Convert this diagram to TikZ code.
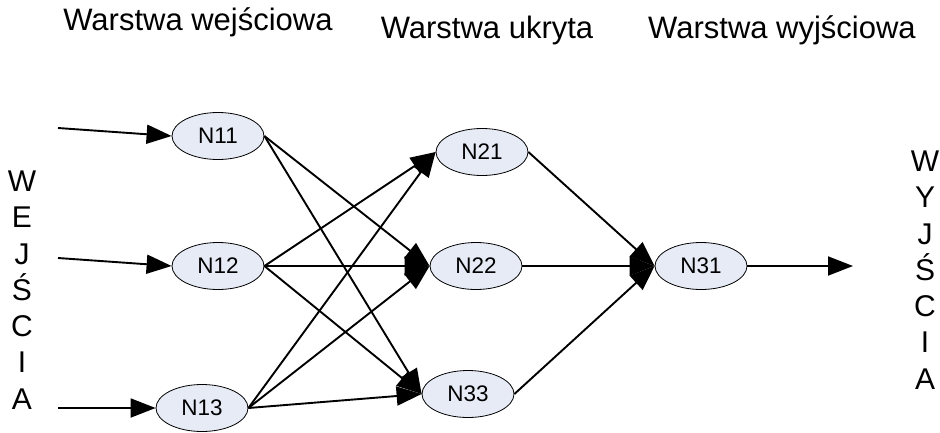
\documentclass[tikz,border=0pt]{standalone}
\usepackage{fontspec}
\setmainfont{Liberation Sans}
\usetikzlibrary{arrows.meta,shapes.geometric}
\definecolor{neuronfill}{RGB}{230,235,246}
\tikzset{
  neuron/.style={ellipse,draw,fill=neuronfill,line width=0.8pt,
    minimum width=92pt,minimum height=47pt,inner sep=0pt,
    font=\fontsize{22.5}{26}\selectfont},
  layertitle/.style={font=\fontsize{31}{36}\selectfont},
  sidetext/.style={align=center,font=\fontsize{30}{36.3}\selectfont},
  link/.style={line width=1.9pt,-{Triangle[length=25pt,width=19pt]}}
}
\begin{document}
\begin{tikzpicture}[x=1pt,y=-1pt]
      \useasboundingbox (0,0) rectangle (940,432);
      \node[layertitle] (t1) at (198,22) {Warstwa wejściowa};
      \node[layertitle] (t2) at (487,30) {Warstwa ukryta};
      \node[layertitle] (t3) at (782,30) {Warstwa wyjściowa};
      \node[sidetext] (we) at (22,290) {W\\E\\J\\Ś\\C\\I\\A};
      \node[sidetext] (wy) at (925,270) {W\\Y\\J\\Ś\\C\\I\\A};
      \draw
        (218,136) node[neuron] (11){N11}
        (218,266) node[neuron] (12){N12}
        (202,408) node[neuron] (13){N13}
        (482,152) node[neuron] (21){N21}
        (476,266) node[neuron] (22){N22}
        (468,394) node[neuron] (33){N33}
        (701,266) node[neuron] (31){N31};
      \coordinate (in1) at (58,128);
      \coordinate (in2) at (58,258);
      \coordinate (in3) at (58,408);
      \coordinate (out) at (853,266);
      \begin{scope}[link]
        \draw (in1) to (11.west);
        \draw (in2) to (12.west);
        \draw (in3) to (13.west);
        \draw (11.east) to (22.west);
        \draw (11.east) to (33.west);
        \draw (12.east) to (21.west);
        \draw (12.east) to (22.west);
        \draw (12.east) to (33.west);
        \draw (13.east) to (21.west);
        \draw (13.east) to (22.west);
        \draw (13.east) to (33.west);
        \draw (21.east) to (31.west);
        \draw (22.east) to (31.west);
        \draw (33.east) to (31.west);
        \draw (31.east) to (out);
      \end{scope}
    \end{tikzpicture}
\end{document}
